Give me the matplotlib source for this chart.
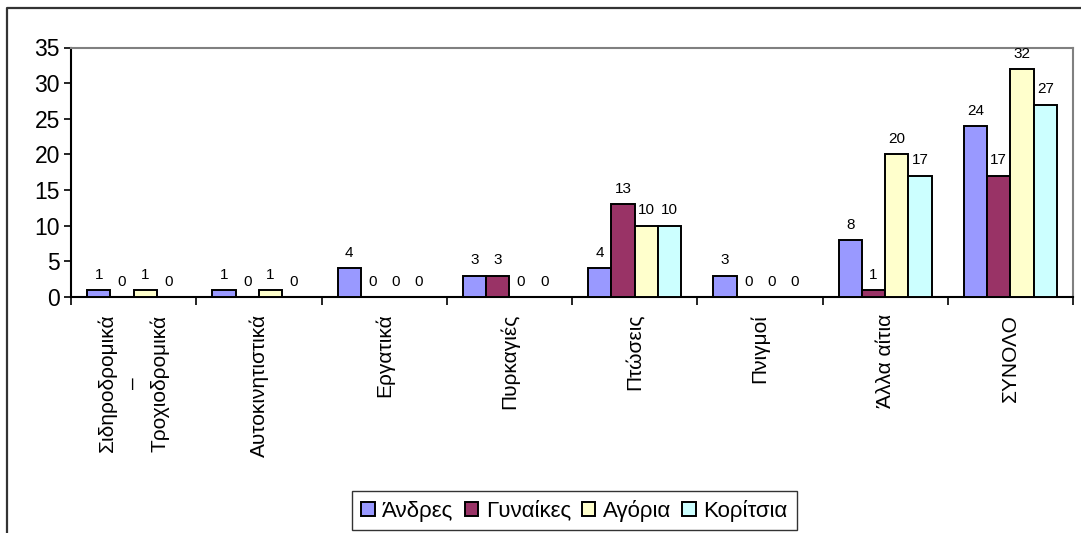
import matplotlib
matplotlib.use("Agg")
import matplotlib.pyplot as plt
from matplotlib.lines import Line2D
import numpy as np

categories = [
    "Σιδηροδρομικά\n–\nΤροχιοδρομικά",
    "Αυτοκινητιστικά",
    "Εργατικά",
    "Πυρκαγιές",
    "Πτώσεις",
    "Πνιγμοί",
    "Άλλα αίτια",
    "ΣΥΝΟΛΟ",
]
series_names = ["Άνδρες", "Γυναίκες", "Αγόρια", "Κορίτσια"]
andres = [1, 1, 4, 3, 4, 3, 8, 24]
gynaikes = [0, 0, 0, 3, 13, 0, 1, 17]
agoria = [1, 1, 0, 0, 10, 0, 20, 32]
koritsia = [0, 0, 0, 0, 10, 0, 17, 27]
colors = ["#9999FF", "#993366", "#FFFFCC", "#CCFFFF"]

plt.rcParams["font.family"] = ["Liberation Sans", "DejaVu Sans"]

fig = plt.figure(figsize=(10.81, 5.33), dpi=100)
ax = fig.add_axes([71 / 1081, 1 - 297 / 533, (1073 - 71) / 1081, (297 - 47.5) / 533])

x = np.arange(len(categories))
width = 0.186
for i, (name, vals, col) in enumerate(zip(series_names, [andres, gynaikes, agoria, koritsia], colors)):
    pos = x + (i - 1.5) * width
    bars = ax.bar(pos, vals, width, color=col, edgecolor="black", linewidth=1.4, label=name, zorder=3)
    for b, v in zip(bars, vals):
        ax.annotate(str(v), (b.get_x() + b.get_width() / 2, v), xytext=(0, 6),
                    textcoords="offset points", ha="center", va="bottom", fontsize=11)

ax.set_xlim(-0.5, len(categories) - 0.5)
ax.set_ylim(0, 35)
ax.set_yticks(range(0, 36, 5))
ax.tick_params(axis="y", labelsize=16.5, length=5, width=1.2, direction="out", pad=3)
ax.set_xticks(x)
ax.set_xticklabels(categories, rotation=90, ha="center", va="top", multialignment="center",
                   fontsize=15, linespacing=1.45)
ax.tick_params(axis="x", which="major", length=0, pad=12)
ax.set_xticks(np.arange(-0.5, len(categories)), minor=True)
ax.tick_params(axis="x", which="minor", length=6, width=1.2, direction="out")

for side in ("top", "right"):
    ax.spines[side].set_color("#808080")
    ax.spines[side].set_linewidth(1.5)
for side in ("left", "bottom"):
    ax.spines[side].set_color("black")
    ax.spines[side].set_linewidth(1.5)

leg = ax.legend(loc="center", bbox_to_anchor=(574.5 / 1081, 1 - 510.5 / 533), bbox_transform=fig.transFigure,
                ncol=4, fontsize=16, frameon=True, fancybox=False, handlelength=0.6, handleheight=0.6,
                handletextpad=0.35, columnspacing=0.5, borderpad=0.4, borderaxespad=0)
leg.get_frame().set_edgecolor("black")
leg.get_frame().set_linewidth(1.0)

# chart area border (only top and left visible in the original)
fig.add_artist(Line2D([7.5 / 1081, 7.5 / 1081, 1.0], [0.0, 1 - 7.5 / 533, 1 - 7.5 / 533],
                      transform=fig.transFigure, color="#333333", linewidth=1.6))

fig.savefig("out.png", dpi=100, facecolor="white")
